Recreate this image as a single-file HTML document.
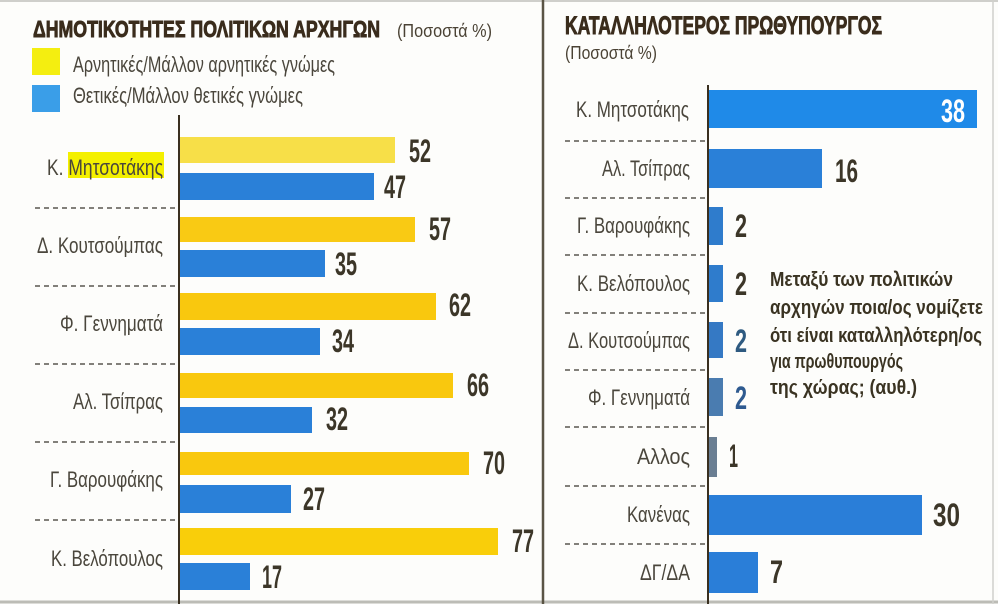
<!DOCTYPE html>
<html><head><meta charset="utf-8"><style>
html,body{margin:0;padding:0;background:#fdfdfb;}
svg{display:block;}
text{font-family:"Liberation Sans Narrow","Liberation Sans","DejaVu Sans",sans-serif;}
.lbl{font-size:22px;fill:#4a463c;}
.num{font-size:32px;fill:#3c3628;font-weight:bold;}
.ttl{font-size:23px;font-weight:bold;fill:#3a2c1c;stroke:#3a2c1c;stroke-width:0.9;}
.sub{font-size:18px;fill:#4a4234;}
.ann{font-size:20px;font-weight:bold;fill:#3a3322;}
</style></head><body>
<svg width="998" height="604" viewBox="0 0 998 604" xmlns="http://www.w3.org/2000/svg">
<rect x="0" y="0" width="998" height="604" fill="#fdfdfb"/>
<line x1="0" y1="1" x2="998" y2="1" stroke="#cfcfcb" stroke-width="2"/>
<line x1="0" y1="602" x2="998" y2="602" stroke="#bcbcb6" stroke-width="3"/>
<line x1="993" y1="0" x2="993" y2="604" stroke="#d0d0cc" stroke-width="1.5"/>
<line x1="543" y1="0" x2="543" y2="604" stroke="#5a5445" stroke-width="2.5"/>

<!-- LEFT PANEL -->
<text class="ttl" x="33" y="37" textLength="347" lengthAdjust="spacingAndGlyphs">ΔΗΜΟΤΙΚΟΤΗΤΕΣ ΠΟΛΙΤΙΚΩΝ ΑΡΧΗΓΩΝ</text>
<text class="sub" x="397" y="37" textLength="95" lengthAdjust="spacingAndGlyphs">(Ποσοστά %)</text>
<rect x="32" y="48" width="28" height="27" fill="#f4ee10"/>
<rect x="32" y="85" width="28" height="27" fill="#3a9ee8"/>
<text class="lbl" x="73" y="72" textLength="262" lengthAdjust="spacingAndGlyphs">Αρνητικές/Μάλλον αρνητικές γνώμες</text>
<text class="lbl" x="73" y="103" textLength="230" lengthAdjust="spacingAndGlyphs">Θετικές/Μάλλον θετικές γνώμες</text>

<!-- separators left -->
<g stroke="#5a5650" stroke-width="1.5" stroke-dasharray="5,4">
<line x1="35" y1="208" x2="178" y2="208"/>
<line x1="35" y1="286" x2="178" y2="286"/>
<line x1="35" y1="364" x2="178" y2="364"/>
<line x1="35" y1="442" x2="178" y2="442"/>
<line x1="35" y1="520" x2="178" y2="520"/>
</g>

<!-- yellow bars -->
<rect x="180" y="137" width="215" height="26" fill="#f7df48"/>
<rect x="180" y="217" width="235" height="25" fill="#f9ca14"/>
<rect x="180" y="293" width="256" height="27" fill="#f9c80e"/>
<rect x="180" y="373" width="273" height="25" fill="#f9c80e"/>
<rect x="180" y="452" width="289" height="23" fill="#f9c80e"/>
<rect x="180" y="528" width="318" height="27" fill="#f9ce0a"/>
<!-- blue bars -->
<rect x="180" y="173" width="194" height="27" fill="#2a80d8"/>
<rect x="180" y="250" width="145" height="27" fill="#2a80d8"/>
<rect x="180" y="328" width="140" height="27" fill="#2a80d8"/>
<rect x="180" y="407" width="132" height="26" fill="#2a80d8"/>
<rect x="180" y="485" width="111" height="28" fill="#2a80d8"/>
<rect x="180" y="563" width="70" height="27" fill="#2a80d8"/>

<line x1="179" y1="115" x2="179" y2="604" stroke="#3a3020" stroke-width="2"/>

<!-- left names -->
<rect x="68" y="152" width="96" height="26" fill="#f4f000"/>
<text class="lbl" x="163" y="175" text-anchor="end" textLength="116" lengthAdjust="spacingAndGlyphs">Κ. Μητσοτάκης</text>
<text class="lbl" x="163" y="253" text-anchor="end" textLength="126" lengthAdjust="spacingAndGlyphs">Δ. Κουτσούμπας</text>
<text class="lbl" x="163" y="331" text-anchor="end" textLength="103" lengthAdjust="spacingAndGlyphs">Φ. Γεννηματά</text>
<text class="lbl" x="163" y="409" text-anchor="end" textLength="90" lengthAdjust="spacingAndGlyphs">Αλ. Τσίπρας</text>
<text class="lbl" x="163" y="487" text-anchor="end" textLength="113" lengthAdjust="spacingAndGlyphs">Γ. Βαρουφάκης</text>
<text class="lbl" x="163" y="566" text-anchor="end" textLength="112" lengthAdjust="spacingAndGlyphs">Κ. Βελόπουλος</text>

<!-- left values -->
<text class="num" x="409" y="162" textLength="22" lengthAdjust="spacingAndGlyphs">52</text>
<text class="num" x="429" y="240" textLength="22" lengthAdjust="spacingAndGlyphs">57</text>
<text class="num" x="449" y="316" textLength="22" lengthAdjust="spacingAndGlyphs">62</text>
<text class="num" x="467" y="396" textLength="22" lengthAdjust="spacingAndGlyphs">66</text>
<text class="num" x="483" y="474" textLength="22" lengthAdjust="spacingAndGlyphs">70</text>
<text class="num" x="512" y="552" textLength="22" lengthAdjust="spacingAndGlyphs">77</text>
<text class="num" x="384" y="198" textLength="22" lengthAdjust="spacingAndGlyphs">47</text>
<text class="num" x="335" y="275" textLength="22" lengthAdjust="spacingAndGlyphs">35</text>
<text class="num" x="332" y="352" textLength="22" lengthAdjust="spacingAndGlyphs">34</text>
<text class="num" x="326" y="430" textLength="22" lengthAdjust="spacingAndGlyphs">32</text>
<text class="num" x="303" y="510" textLength="22" lengthAdjust="spacingAndGlyphs">27</text>
<text class="num" x="262" y="588" textLength="20" lengthAdjust="spacingAndGlyphs">17</text>

<!-- RIGHT PANEL -->
<text class="ttl" x="565" y="34" style="font-size:25px" textLength="317" lengthAdjust="spacingAndGlyphs">ΚΑΤΑΛΛΗΛΟΤΕΡΟΣ ΠΡΩΘΥΠΟΥΡΓΟΣ</text>
<text class="sub" x="565" y="59" textLength="92" lengthAdjust="spacingAndGlyphs">(Ποσοστά %)</text>

<g stroke="#5a5650" stroke-width="1.5" stroke-dasharray="5,4">
<line x1="565" y1="141" x2="707" y2="141"/>
<line x1="565" y1="198" x2="707" y2="198"/>
<line x1="565" y1="255" x2="707" y2="255"/>
<line x1="565" y1="313" x2="707" y2="313"/>
<line x1="565" y1="370" x2="707" y2="370"/>
<line x1="565" y1="427" x2="707" y2="427"/>
<line x1="565" y1="486" x2="707" y2="486"/>
<line x1="565" y1="544" x2="707" y2="544"/>
</g>

<rect x="709" y="90" width="268" height="38" fill="#1f8ae8"/>
<rect x="709" y="149" width="113" height="39" fill="#2a80d8"/>
<rect x="709" y="207" width="14" height="38" fill="#2f7ccc"/>
<rect x="709" y="265" width="14" height="37" fill="#2f7ccc"/>
<rect x="709" y="322" width="14" height="36" fill="#3579c4"/>
<rect x="709" y="378" width="14" height="38" fill="#4a7cb0"/>
<rect x="709" y="437" width="8" height="40" fill="#6a7e92"/>
<rect x="709" y="495" width="213" height="40" fill="#2a7ed8"/>
<rect x="709" y="552" width="49" height="41" fill="#2a7ed8"/>

<line x1="708" y1="85" x2="708" y2="604" stroke="#3a3020" stroke-width="2"/>

<text class="lbl" x="689" y="117" text-anchor="end" textLength="113" lengthAdjust="spacingAndGlyphs">Κ. Μητσοτάκης</text>
<text class="lbl" x="690" y="176" text-anchor="end" textLength="88" lengthAdjust="spacingAndGlyphs">Αλ. Τσίπρας</text>
<text class="lbl" x="690" y="233" text-anchor="end" textLength="113" lengthAdjust="spacingAndGlyphs">Γ. Βαρουφάκης</text>
<text class="lbl" x="690" y="291" text-anchor="end" textLength="113" lengthAdjust="spacingAndGlyphs">Κ. Βελόπουλος</text>
<text class="lbl" x="690" y="348" text-anchor="end" textLength="122" lengthAdjust="spacingAndGlyphs">Δ. Κουτσούμπας</text>
<text class="lbl" x="690" y="405" text-anchor="end" textLength="102" lengthAdjust="spacingAndGlyphs">Φ. Γεννηματά</text>
<text class="lbl" x="690" y="464" text-anchor="end" textLength="53" lengthAdjust="spacingAndGlyphs">Αλλος</text>
<text class="lbl" x="690" y="522" text-anchor="end" textLength="63" lengthAdjust="spacingAndGlyphs">Κανένας</text>
<text class="lbl" x="690" y="580" text-anchor="end" textLength="50" lengthAdjust="spacingAndGlyphs">ΔΓ/ΔΑ</text>

<text class="num" x="965" y="122" text-anchor="end" style="fill:#ffffff" textLength="24" lengthAdjust="spacingAndGlyphs">38</text>
<text class="num" x="835" y="182" textLength="23" lengthAdjust="spacingAndGlyphs">16</text>
<text class="num" x="735" y="237" textLength="12" lengthAdjust="spacingAndGlyphs">2</text>
<text class="num" x="735" y="295" textLength="12" lengthAdjust="spacingAndGlyphs">2</text>
<text class="num" x="735" y="352" textLength="12" lengthAdjust="spacingAndGlyphs" style="fill:#2e5a80">2</text>
<text class="num" x="735" y="409" textLength="12" lengthAdjust="spacingAndGlyphs" style="fill:#2e5a90">2</text>
<text class="num" x="729" y="467" textLength="9" lengthAdjust="spacingAndGlyphs">1</text>
<text class="num" x="933" y="526" textLength="27" lengthAdjust="spacingAndGlyphs">30</text>
<text class="num" x="770" y="583" textLength="13" lengthAdjust="spacingAndGlyphs">7</text>

<text class="ann" x="770" y="286" textLength="183" lengthAdjust="spacingAndGlyphs">Μεταξύ των πολιτικών</text>
<text class="ann" x="770" y="314" textLength="213" lengthAdjust="spacingAndGlyphs">αρχηγών ποια/ος νομίζετε</text>
<text class="ann" x="770" y="342" textLength="212" lengthAdjust="spacingAndGlyphs">ότι είναι καταλληλότερη/ος</text>
<text class="ann" x="770" y="368" textLength="133" lengthAdjust="spacingAndGlyphs">για πρωθυπουργός</text>
<text class="ann" x="770" y="394" textLength="147" lengthAdjust="spacingAndGlyphs">της χώρας; (αυθ.)</text>
</svg>
</body></html>
